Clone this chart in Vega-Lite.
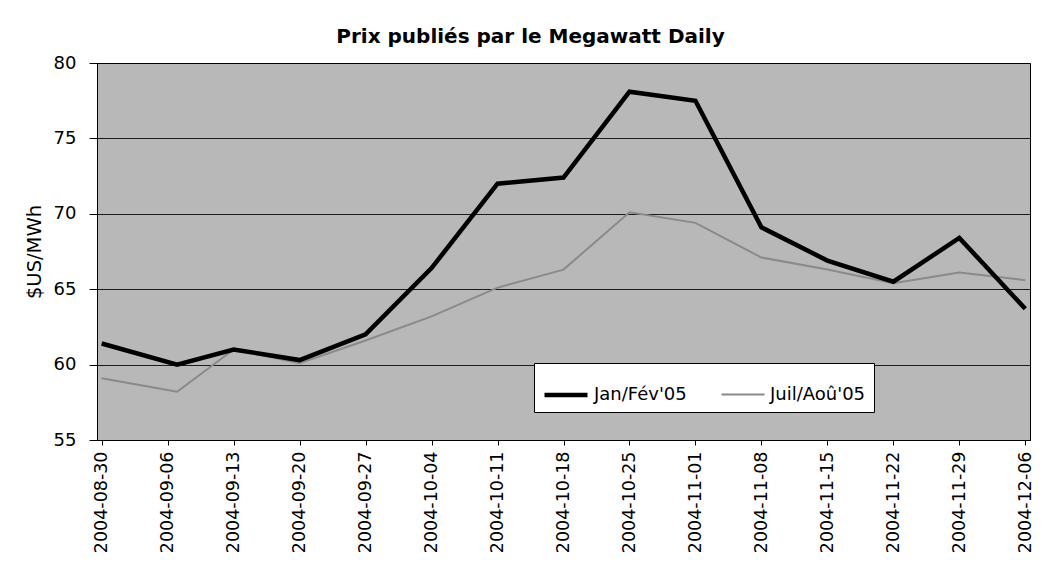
{
  "$schema": "https://vega.github.io/schema/vega-lite/v6.json",
  "width": 933,
  "height": 377,
  "autosize": {"type": "none"},
  "padding": {"left": 97, "top": 63, "right": 16, "bottom": 130},
  "background": "white",
  "title": {
    "text": "Prix publiés par le Megawatt Daily",
    "font": "DejaVu Sans",
    "fontSize": 20,
    "fontWeight": "bold",
    "color": "black",
    "anchor": "middle",
    "dx": -33,
    "offset": 7
  },
  "data": {
    "values": [
      {"date": "2004-08-30", "series": "Juil/Aoû'05", "price": 59.1},
      {"date": "2004-09-07", "series": "Juil/Aoû'05", "price": 58.2},
      {"date": "2004-09-13", "series": "Juil/Aoû'05", "price": 61.0},
      {"date": "2004-09-20", "series": "Juil/Aoû'05", "price": 60.1},
      {"date": "2004-09-27", "series": "Juil/Aoû'05", "price": 61.6},
      {"date": "2004-10-04", "series": "Juil/Aoû'05", "price": 63.2},
      {"date": "2004-10-11", "series": "Juil/Aoû'05", "price": 65.1},
      {"date": "2004-10-18", "series": "Juil/Aoû'05", "price": 66.3},
      {"date": "2004-10-25", "series": "Juil/Aoû'05", "price": 70.1},
      {"date": "2004-11-01", "series": "Juil/Aoû'05", "price": 69.4},
      {"date": "2004-11-08", "series": "Juil/Aoû'05", "price": 67.1},
      {"date": "2004-11-15", "series": "Juil/Aoû'05", "price": 66.3},
      {"date": "2004-11-22", "series": "Juil/Aoû'05", "price": 65.4},
      {"date": "2004-11-29", "series": "Juil/Aoû'05", "price": 66.1},
      {"date": "2004-12-06", "series": "Juil/Aoû'05", "price": 65.6},
      {"date": "2004-08-30", "series": "Jan/Fév'05", "price": 61.4},
      {"date": "2004-09-07", "series": "Jan/Fév'05", "price": 60.0},
      {"date": "2004-09-13", "series": "Jan/Fév'05", "price": 61.0},
      {"date": "2004-09-20", "series": "Jan/Fév'05", "price": 60.3},
      {"date": "2004-09-27", "series": "Jan/Fév'05", "price": 62.0},
      {"date": "2004-10-04", "series": "Jan/Fév'05", "price": 66.4},
      {"date": "2004-10-11", "series": "Jan/Fév'05", "price": 72.0},
      {"date": "2004-10-18", "series": "Jan/Fév'05", "price": 72.4},
      {"date": "2004-10-25", "series": "Jan/Fév'05", "price": 78.1},
      {"date": "2004-11-01", "series": "Jan/Fév'05", "price": 77.5},
      {"date": "2004-11-08", "series": "Jan/Fév'05", "price": 69.1},
      {"date": "2004-11-15", "series": "Jan/Fév'05", "price": 66.9},
      {"date": "2004-11-22", "series": "Jan/Fév'05", "price": 65.5},
      {"date": "2004-11-29", "series": "Jan/Fév'05", "price": 68.4},
      {"date": "2004-12-06", "series": "Jan/Fév'05", "price": 63.7}
    ]
  },
  "mark": {"type": "line", "interpolate": "linear", "strokeJoin": "miter"},
  "encoding": {
    "x": {
      "field": "date",
      "type": "temporal",
      "scale": {
        "type": "utc",
        "domain": [
          {"year": 2004, "month": 8, "date": 29, "hours": 12, "utc": true},
          {"year": 2004, "month": 12, "date": 6, "hours": 12, "utc": true}
        ]
      },
      "axis": {
        "title": null,
        "format": "%Y-%m-%d",
        "values": [
          {"year": 2004, "month": 8, "date": 30, "utc": true},
          {"year": 2004, "month": 9, "date": 6, "utc": true},
          {"year": 2004, "month": 9, "date": 13, "utc": true},
          {"year": 2004, "month": 9, "date": 20, "utc": true},
          {"year": 2004, "month": 9, "date": 27, "utc": true},
          {"year": 2004, "month": 10, "date": 4, "utc": true},
          {"year": 2004, "month": 10, "date": 11, "utc": true},
          {"year": 2004, "month": 10, "date": 18, "utc": true},
          {"year": 2004, "month": 10, "date": 25, "utc": true},
          {"year": 2004, "month": 11, "date": 1, "utc": true},
          {"year": 2004, "month": 11, "date": 8, "utc": true},
          {"year": 2004, "month": 11, "date": 15, "utc": true},
          {"year": 2004, "month": 11, "date": 22, "utc": true},
          {"year": 2004, "month": 11, "date": 29, "utc": true},
          {"year": 2004, "month": 12, "date": 6, "utc": true}
        ],
        "labelAngle": -90,
        "labelFont": "DejaVu Sans",
        "labelFontSize": 17.5,
        "labelColor": "black",
        "labelPadding": 6,
        "labelOverlap": false,
        "labelFlush": false,
        "tickSize": 5,
        "tickColor": "black",
        "domainColor": "black",
        "grid": false
      }
    },
    "y": {
      "field": "price",
      "type": "quantitative",
      "scale": {"domain": [55, 80], "nice": false, "zero": false},
      "axis": {
        "title": "$US/MWh",
        "titleFont": "DejaVu Sans",
        "titleFontSize": 19.5,
        "titleFontWeight": "normal",
        "titleColor": "black",
        "titlePadding": 9,
        "values": [55, 60, 65, 70, 75, 80],
        "labelFont": "DejaVu Sans",
        "labelFontSize": 18,
        "labelColor": "black",
        "labelPadding": 13,
        "tickSize": 8,
        "tickColor": "black",
        "domainColor": "black",
        "grid": true,
        "gridColor": "black",
        "gridWidth": 1,
        "gridOpacity": 0.85
      }
    },
    "color": {
      "field": "series",
      "type": "nominal",
      "scale": {"domain": ["Jan/Fév'05", "Juil/Aoû'05"], "range": ["#000000", "#8a8a8a"]},
      "legend": {
        "title": null,
        "orient": "none",
        "legendX": 437,
        "legendY": 300,
        "direction": "horizontal",
        "fillColor": "white",
        "strokeColor": "black",
        "padding": 8,
        "columnPadding": 30,
        "symbolType": "stroke",
        "symbolSize": 1850,
        "labelFont": "DejaVu Sans",
        "labelFontSize": 18,
        "labelColor": "black",
        "labelOffset": 4
      }
    },
    "strokeWidth": {
      "field": "series",
      "type": "nominal",
      "scale": {"domain": ["Jan/Fév'05", "Juil/Aoû'05"], "range": [4.5, 2]},
      "legend": {
        "title": null,
        "orient": "none",
        "legendX": 437,
        "legendY": 300,
        "direction": "horizontal",
        "fillColor": "white",
        "strokeColor": "black",
        "padding": 8,
        "columnPadding": 30,
        "symbolType": "stroke",
        "symbolSize": 1850,
        "labelFont": "DejaVu Sans",
        "labelFontSize": 18,
        "labelColor": "black",
        "labelOffset": 4
      }
    }
  },
  "config": {
    "view": {"fill": "#b8b8b8", "stroke": "black", "strokeWidth": 1}
  }
}
